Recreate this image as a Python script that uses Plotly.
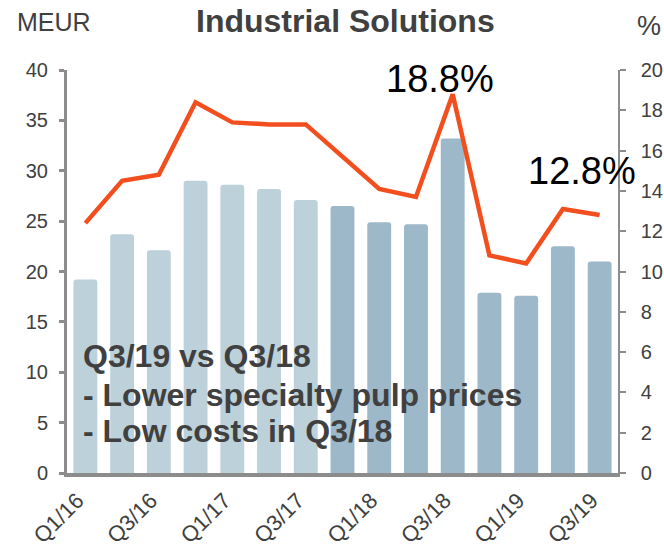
import plotly.graph_objects as go

quarters = ["Q1/16", "Q2/16", "Q3/16", "Q4/16", "Q1/17", "Q2/17", "Q3/17", "Q4/17",
            "Q1/18", "Q2/18", "Q3/18", "Q4/18", "Q1/19", "Q2/19", "Q3/19"]
sales_meur = [19.2, 23.7, 22.1, 29.0, 28.6, 28.2, 27.1, 26.5,
              24.9, 24.7, 33.2, 17.9, 17.6, 22.5, 21.0]
margin_pct = [12.4, 14.5, 14.8, 18.4, 17.4, 17.3, 17.3, 15.7,
              14.1, 13.7, 18.8, 10.8, 10.4, 13.1, 12.8]
tick_labels = ["Q1/16", "Q3/16", "Q1/17", "Q3/17", "Q1/18", "Q3/18", "Q1/19", "Q3/19"]
note_lines = ["Q3/19 vs Q3/18", "- Lower specialty pulp prices", "- Low costs in Q3/18"]

light = "#BDD1DA"
dark = "#9CB8C9"
bar_colors = [light] * 7 + [dark] * 8

fig = go.Figure()
fig.add_trace(go.Bar(x=quarters, y=sales_meur, marker=dict(color=bar_colors, cornerradius=3, line=dict(width=0)),
                     width=0.65, yaxis="y", showlegend=False))
fig.add_trace(go.Scatter(x=quarters, y=margin_pct, mode="lines", line=dict(color="#F24E1E", width=4.5),
                         yaxis="y2", showlegend=False))

font_family = "Liberation Sans, Arial, sans-serif"
axis_gray = "#8C8C8C"
text_gray = "#404040"

fig.update_layout(
    width=664, height=547,
    margin=dict(l=67, r=46, t=70, b=74, autoexpand=False),
    plot_bgcolor="white", paper_bgcolor="white",
    font=dict(family=font_family, color=text_gray, size=20),
    xaxis=dict(type="category", tickmode="array", tickvals=tick_labels, ticktext=tick_labels,
               tickangle=-45, showline=True, linecolor=axis_gray, linewidth=4, ticks="",
               showgrid=False, tickfont=dict(size=22, color=text_gray), range=[-0.5, 14.5],
               automargin=False, ticklabelshift=-8, ticklabelstandoff=2),
    yaxis=dict(range=[0, 40], dtick=5, showline=True, linecolor=axis_gray, linewidth=3,
               ticks="outside", ticklen=5, tickwidth=3, tickcolor=axis_gray, showgrid=False,
               zeroline=False, tickfont=dict(size=20, color=text_gray), ticklabelstandoff=7,
               automargin=False),
    yaxis2=dict(range=[0, 20], dtick=2, overlaying="y", side="right", showline=True,
                linecolor=axis_gray, linewidth=1.5, ticks="outside", ticklen=6, tickwidth=1.5,
                tickcolor=axis_gray, showgrid=False, zeroline=False,
                tickfont=dict(size=20, color=text_gray), ticklabelstandoff=11, automargin=False),
)

fig.add_annotation(text="<b>Industrial Solutions</b>", xref="paper", yref="paper", x=0.506, y=1,
                   yshift=49, xanchor="center", yanchor="middle", showarrow=False,
                   font=dict(size=32, color=text_gray))
fig.add_annotation(text="MEUR", xref="paper", yref="paper", x=-0.094, y=1, yshift=48,
                   xanchor="left", yanchor="middle", showarrow=False,
                   font=dict(size=25, color=text_gray))
fig.add_annotation(text="%", xref="paper", yref="paper", x=1.03, y=1, yshift=44,
                   xanchor="left", yanchor="middle", showarrow=False,
                   font=dict(size=27, color=text_gray))
fig.add_annotation(text="18.8%", x="Q3/18", y=margin_pct[10], xref="x", yref="y2",
                   xanchor="center", yanchor="bottom", xshift=-13, yshift=-8, showarrow=False,
                   font=dict(size=38, color="#000000"))
fig.add_annotation(text="12.8%", x="Q2/19", y=margin_pct[13], xref="x", yref="y2",
                   xanchor="center", yanchor="bottom", xshift=19, yshift=15, showarrow=False,
                   font=dict(size=38, color="#000000"))
for line_text, y_pos in zip(note_lines, [11.6, 7.74, 4.17]):
    fig.add_annotation(text="<b>" + line_text + "</b>", x=0.0255, y=y_pos, xref="paper", yref="y",
                       xanchor="left", yanchor="middle", align="left", showarrow=False,
                       font=dict(size=32, color=text_gray))

fig.write_html("out.html", config={"displayModeBar": False},
               post_script="document.body.style.margin='0';document.body.style.overflow='hidden';")
